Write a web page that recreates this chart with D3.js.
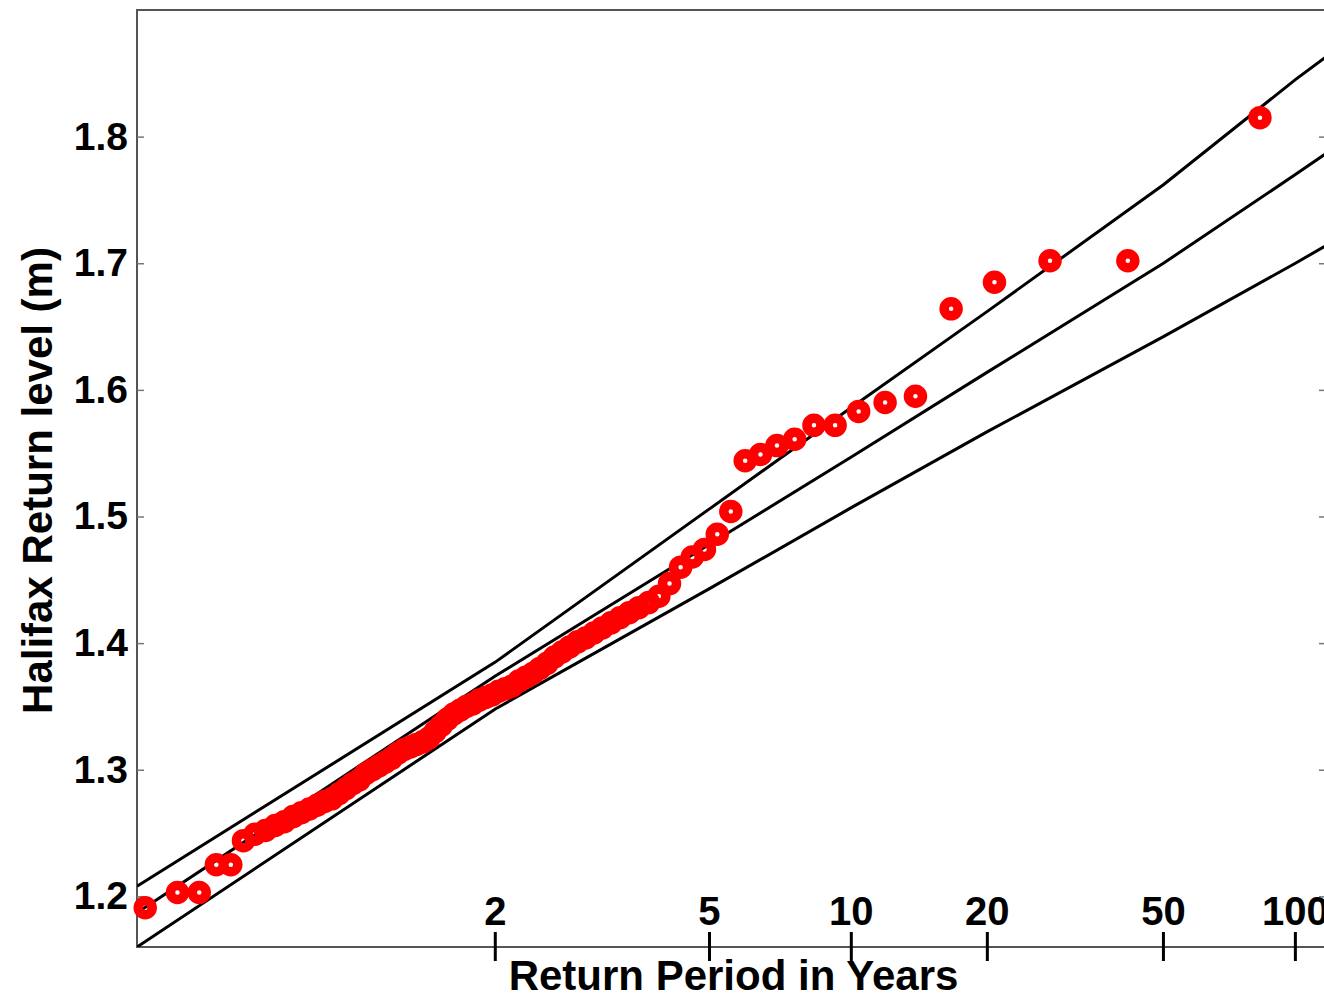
<!DOCTYPE html>
<html>
<head>
<meta charset="utf-8">
<script src="https://cdn.jsdelivr.net/npm/d3@7"></script>
<style>
  html, body { margin: 0; padding: 0; background: #ffffff; }
  svg { display: block; }
  text { font-family: "Liberation Sans", Arial, Helvetica, sans-serif; font-weight: bold; fill: #000; }
</style>
</head>
<body>
<svg id="chart" width="1324" height="998"></svg>
<script>
// ---------------- DATA ----------------
// Observed annual maxima (sorted ascending), Halifax, metres
const levels = [
  1.191, 1.203, 1.203, 1.225, 1.225, 1.244, 1.249, 1.252, 1.256, 1.259,
  1.263, 1.266, 1.269, 1.272, 1.275, 1.277, 1.281, 1.285, 1.289, 1.292,
  1.297, 1.300, 1.303, 1.306, 1.309, 1.313, 1.316, 1.318, 1.320, 1.322,
  1.325, 1.330, 1.335, 1.340, 1.344, 1.347, 1.350, 1.352, 1.355, 1.357,
  1.359, 1.362, 1.364, 1.366, 1.370, 1.373, 1.376, 1.380, 1.384, 1.389,
  1.393, 1.397, 1.401, 1.404, 1.408, 1.412, 1.416, 1.420, 1.424, 1.428,
  1.432, 1.437, 1.447, 1.460, 1.468, 1.474, 1.486, 1.504, 1.544, 1.549,
  1.556, 1.561, 1.572, 1.572, 1.583, 1.590, 1.595, 1.664, 1.685, 1.702,
  1.702, 1.815
];
// Plotting-position return periods (years) for each sorted observation
const periods = [
  1.0122, 1.0247, 1.0375, 1.0506, 1.0641, 1.0779, 1.0921, 1.1067, 1.1216, 1.1370,
  1.1528, 1.1690, 1.1857, 1.2029, 1.2206, 1.2388, 1.2576, 1.2769, 1.2969, 1.3175,
  1.3387, 1.3607, 1.3833, 1.4068, 1.4310, 1.4561, 1.4821, 1.5091, 1.5370, 1.5660,
  1.5962, 1.6275, 1.6600, 1.6939, 1.7292, 1.7660, 1.8043, 1.8444, 1.8864, 1.9302,
  1.9762, 2.0244, 2.0750, 2.1282, 2.1842, 2.2432, 2.3056, 2.3714, 2.4412, 2.5152,
  2.5938, 2.6774, 2.7667, 2.8621, 2.9643, 3.0741, 3.1923, 3.3200, 3.4583, 3.6087,
  3.7727, 3.9524, 4.1500, 4.3684, 4.6111, 4.8824, 5.1875, 5.5333, 5.9286, 6.3846,
  6.9167, 7.5455, 8.3000, 9.2222, 10.375, 11.857, 13.833, 16.600, 20.750, 27.667,
  41.500, 83.000
];

// Fitted return-level curve and confidence bounds
const curvePeriods = [1.01, 2, 5, 10, 20, 50, 100, 150];
const upperLevels  = [1.208, 1.385, 1.506, 1.586, 1.662, 1.762, 1.845, 1.890];
const fitLevels    = [1.187, 1.374, 1.478, 1.547, 1.614, 1.700, 1.770, 1.812];
const lowerLevels  = [1.160, 1.348, 1.443, 1.507, 1.567, 1.642, 1.700, 1.735];

// Axis ticks
const xTickPeriods = [2, 5, 10, 20, 50, 100];
const xTickLabels  = ["2", "5", "10", "20", "50", "100"];
const yTickValues  = [1.2, 1.3, 1.4, 1.5, 1.6, 1.7, 1.8];
const yTickLabels  = ["1.2", "1.3", "1.4", "1.5", "1.6", "1.7", "1.8"];

const xTitle = "Return Period in Years";
const yTitle = "Halifax Return level (m)";

// ---------------- LAYOUT ----------------
const plot = { left: 137, right: 1326, top: 10, bottom: 947 };
const gumbel = T => -Math.log(-Math.log(1 - 1 / T));

const x = d3.scaleLinear()
  .domain([gumbel(1.01), gumbel(117.5)])
  .range([plot.left, plot.right]);
const y = d3.scaleLinear()
  .domain([1.16, 1.9])
  .range([plot.bottom, plot.top]);

const svg = d3.select("#chart");

svg.append("defs").append("clipPath").attr("id", "plotclip")
  .append("rect")
  .attr("x", plot.left).attr("y", plot.top)
  .attr("width", plot.right - plot.left).attr("height", plot.bottom - plot.top);

// Frame
svg.append("rect")
  .attr("x", plot.left).attr("y", plot.top)
  .attr("width", plot.right - plot.left).attr("height", plot.bottom - plot.top)
  .attr("fill", "none").attr("stroke", "#555").attr("stroke-width", 2);

// Y ticks (inward, both sides) and labels
const yAxisL = d3.axisLeft(y).tickValues(yTickValues).tickSizeInner(-7).tickSizeOuter(0)
  .tickFormat((d, i) => yTickLabels[i]).tickPadding(9);
const gyl = svg.append("g").attr("transform", `translate(${plot.left},0)`).call(yAxisL);
gyl.select(".domain").remove();
gyl.selectAll(".tick line").attr("stroke", "#777").attr("stroke-width", 1.5);
gyl.selectAll(".tick text")
  .style("font-family", "'Liberation Sans', Arial, sans-serif")
  .style("font-weight", "bold").style("font-size", "39px").attr("fill", "#000");

const yAxisR = d3.axisRight(y).tickValues(yTickValues).tickSizeInner(-7).tickSizeOuter(0)
  .tickFormat("");
const gyr = svg.append("g").attr("transform", `translate(${plot.right},0)`).call(yAxisR);
gyr.select(".domain").remove();
gyr.selectAll(".tick line").attr("stroke", "#777").attr("stroke-width", 1.5);

// X ticks: crossing the bottom frame, labels inside above the axis
const gx = svg.append("g");
gx.selectAll("line.xt").data(xTickPeriods).join("line")
  .attr("class", "xt")
  .attr("x1", d => x(gumbel(d))).attr("x2", d => x(gumbel(d)))
  .attr("y1", plot.bottom - 15).attr("y2", plot.bottom + 14)
  .attr("stroke", "#000").attr("stroke-width", 3);
gx.selectAll("text.xl").data(xTickPeriods).join("text")
  .attr("class", "xl")
  .attr("x", d => x(gumbel(d)))
  .attr("y", plot.bottom - 22)
  .attr("text-anchor", "middle")
  .style("font-size", "40px")
  .text((d, i) => xTickLabels[i]);

// Curves
const line = d3.line()
  .x(d => x(gumbel(d[0])))
  .y(d => y(d[1]));
const gl = svg.append("g").attr("clip-path", "url(#plotclip)");
[upperLevels, fitLevels, lowerLevels].forEach(arr => {
  gl.append("path")
    .datum(curvePeriods.map((T, i) => [T, arr[i]]))
    .attr("d", line)
    .attr("fill", "none")
    .attr("stroke", "#000")
    .attr("stroke-width", 3);
});

// Observations
svg.append("g")
  .selectAll("circle").data(levels).join("circle")
  .attr("cx", (d, i) => x(gumbel(periods[i])))
  .attr("cy", d => y(d))
  .attr("r", 7)
  .attr("fill", "none")
  .attr("stroke", "#ff0000")
  .attr("stroke-width", 9.5);

// Titles
svg.append("text")
  .attr("x", (plot.left + plot.right) / 2 + 2)
  .attr("y", 990)
  .attr("text-anchor", "middle")
  .style("font-size", "42px")
  .text(xTitle);

svg.append("text")
  .attr("transform", `translate(52, ${(plot.top + plot.bottom) / 2 + 2}) rotate(-90)`)
  .attr("text-anchor", "middle")
  .style("font-size", "42px")
  .text(yTitle);
</script>
</body>
</html>
